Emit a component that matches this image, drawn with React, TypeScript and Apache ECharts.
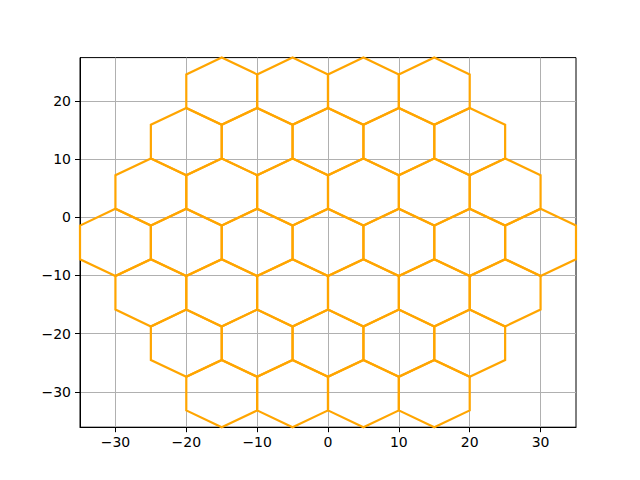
import React, { useEffect, useRef } from "react";
import * as echarts from "echarts";

// Hexagon centres, row by row (y of each row and x of each centre in it)
const rowYs = [21.65, 12.99, 4.33, -4.33, -12.99, -21.65, -30.31];
const rowCenters = [
  [-15, -5, 5, 15],
  [-20, -10, 0, 10, 20],
  [-25, -15, -5, 5, 15, 25],
  [-30, -20, -10, 0, 10, 20, 30],
  [-25, -15, -5, 5, 15, 25],
  [-20, -10, 0, 10, 20],
  [-15, -5, 5, 15],
];
const xTicks = [-30, -20, -10, 0, 10, 20, 30];
const yTicks = [-30, -20, -10, 0, 10, 20];
const xRange = [-35, 35];
const yRange = [-36.08, 27.42];

const HEX_R = 5.7735; // circumradius in data units

export default function App() {
  const ref = useRef<HTMLDivElement>(null);
  useEffect(() => {
    if (!ref.current) return;
    const chart = echarts.init(ref.current, null, { renderer: "svg" });
    const data: number[][] = [];
    rowYs.forEach((y, i) => rowCenters[i].forEach((x) => data.push([x, y])));
    const fmt = (v: number) => String(v).replace("-", "\u2212");
    const labelStyle = {
      color: "#000",
      fontSize: 14,
      fontFamily: "DejaVu Sans",
      formatter: fmt,
    };
    chart.setOption({
      animation: false,
      grid: {
        left: 80,
        right: 64,
        top: 57.6,
        bottom: 52.8,
        show: true,
        borderColor: "#000",
        borderWidth: 1,
        backgroundColor: "transparent",
      },
      xAxis: {
        type: "value",
        min: xRange[0],
        max: xRange[1],
        axisLine: { show: true, onZero: false, lineStyle: { color: "#000", width: 1 } },
        axisTick: {
          show: true,
          length: 5,
          customValues: xTicks,
          lineStyle: { color: "#000", width: 1 },
        },
        axisLabel: { ...labelStyle, margin: 8, customValues: xTicks },
        splitLine: { show: true, lineStyle: { color: "#b0b0b0", width: 1 } },
      },
      yAxis: {
        type: "value",
        min: yRange[0],
        max: yRange[1],
        axisLine: { show: true, onZero: false, lineStyle: { color: "#000", width: 1 } },
        axisTick: {
          show: true,
          length: 5,
          customValues: yTicks,
          lineStyle: { color: "#000", width: 1 },
        },
        axisLabel: { ...labelStyle, margin: 9, customValues: yTicks },
        splitLine: { show: true, lineStyle: { color: "#b0b0b0", width: 1 } },
      },
      series: [
        {
          type: "custom",
          data,
          z: 3,
          renderItem: (params: any, api: any) => {
            const cx = api.value(0);
            const cy = api.value(1);
            const pts: number[][] = [];
            for (let k = 0; k < 6; k++) {
              const a = ((30 + 60 * k) * Math.PI) / 180;
              pts.push(api.coord([cx + HEX_R * Math.cos(a), cy + HEX_R * Math.sin(a)]));
            }
            return {
              type: "polygon",
              shape: { points: pts },
              style: { fill: "none", stroke: "#FFA500", lineWidth: 2.2 },
            };
          },
        },
      ],
    });
    return () => chart.dispose();
  }, []);
  return (
    <div
      ref={ref}
      style={{ position: "fixed", left: 0, top: 0, width: 640, height: 480, background: "#fff" }}
    />
  );
}
